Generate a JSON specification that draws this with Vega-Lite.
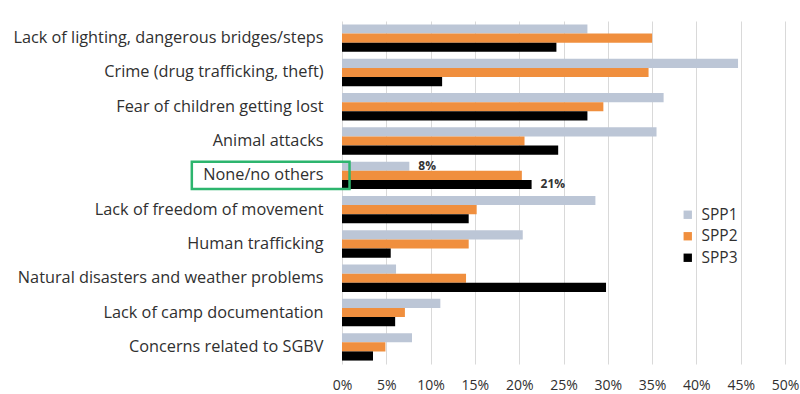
{
  "$schema": "https://vega.github.io/schema/vega-lite/v6.json",
  "width": 443,
  "height": 343,
  "autosize": {"type": "none"},
  "padding": {"left": 342, "top": 21, "right": 15, "bottom": 30},
  "background": "white",
  "config": {
    "font": "Open Sans",
    "view": {"stroke": null},
    "axis": {"labelFont": "Open Sans", "labelColor": "#303030"}
  },
  "data": {
    "values": [
      {"category": "Lack of lighting, dangerous bridges/steps", "series": "SPP1", "value": 0.277, "label": ""},
      {"category": "Lack of lighting, dangerous bridges/steps", "series": "SPP2", "value": 0.350, "label": ""},
      {"category": "Lack of lighting, dangerous bridges/steps", "series": "SPP3", "value": 0.242, "label": ""},
      {"category": "Crime (drug trafficking, theft)", "series": "SPP1", "value": 0.447, "label": ""},
      {"category": "Crime (drug trafficking, theft)", "series": "SPP2", "value": 0.346, "label": ""},
      {"category": "Crime (drug trafficking, theft)", "series": "SPP3", "value": 0.113, "label": ""},
      {"category": "Fear of children getting lost", "series": "SPP1", "value": 0.363, "label": ""},
      {"category": "Fear of children getting lost", "series": "SPP2", "value": 0.295, "label": ""},
      {"category": "Fear of children getting lost", "series": "SPP3", "value": 0.277, "label": ""},
      {"category": "Animal attacks", "series": "SPP1", "value": 0.355, "label": ""},
      {"category": "Animal attacks", "series": "SPP2", "value": 0.206, "label": ""},
      {"category": "Animal attacks", "series": "SPP3", "value": 0.244, "label": ""},
      {"category": "None/no others", "series": "SPP1", "value": 0.076, "label": "8%"},
      {"category": "None/no others", "series": "SPP2", "value": 0.203, "label": ""},
      {"category": "None/no others", "series": "SPP3", "value": 0.214, "label": "21%"},
      {"category": "Lack of freedom of movement", "series": "SPP1", "value": 0.286, "label": ""},
      {"category": "Lack of freedom of movement", "series": "SPP2", "value": 0.152, "label": ""},
      {"category": "Lack of freedom of movement", "series": "SPP3", "value": 0.143, "label": ""},
      {"category": "Human trafficking", "series": "SPP1", "value": 0.204, "label": ""},
      {"category": "Human trafficking", "series": "SPP2", "value": 0.143, "label": ""},
      {"category": "Human trafficking", "series": "SPP3", "value": 0.055, "label": ""},
      {"category": "Natural disasters and weather problems", "series": "SPP1", "value": 0.061, "label": ""},
      {"category": "Natural disasters and weather problems", "series": "SPP2", "value": 0.140, "label": ""},
      {"category": "Natural disasters and weather problems", "series": "SPP3", "value": 0.298, "label": ""},
      {"category": "Lack of camp documentation", "series": "SPP1", "value": 0.111, "label": ""},
      {"category": "Lack of camp documentation", "series": "SPP2", "value": 0.071, "label": ""},
      {"category": "Lack of camp documentation", "series": "SPP3", "value": 0.060, "label": ""},
      {"category": "Concerns related to SGBV", "series": "SPP1", "value": 0.079, "label": ""},
      {"category": "Concerns related to SGBV", "series": "SPP2", "value": 0.049, "label": ""},
      {"category": "Concerns related to SGBV", "series": "SPP3", "value": 0.035, "label": ""}
    ]
  },
  "encoding": {
    "y": {
      "field": "category",
      "type": "nominal",
      "sort": null,
      "scale": {"paddingInner": 0.2, "paddingOuter": 0.1},
      "axis": {
        "title": null,
        "ticks": false,
        "domain": false,
        "labelFontSize": 16.3,
        "labelPadding": 19,
        "labelLimit": 400
      }
    },
    "x": {
      "field": "value",
      "type": "quantitative",
      "scale": {"domain": [0, 0.5]},
      "axis": {
        "title": null,
        "format": ".0%",
        "values": [0, 0.05, 0.1, 0.15, 0.2, 0.25, 0.3, 0.35, 0.4, 0.45, 0.5],
        "ticks": false,
        "domain": false,
        "gridColor": "#d9d9d9",
        "labelFontSize": 14,
        "labelFlush": false,
        "labelOverlap": false,
        "labelPadding": 14
      }
    }
  },
  "layer": [
    {
      "mark": {"type": "bar", "cornerRadius": 0},
      "encoding": {
        "yOffset": {"field": "series", "type": "nominal", "sort": ["SPP1", "SPP2", "SPP3"]},
        "color": {
          "field": "series",
          "type": "nominal",
          "scale": {"domain": ["SPP1", "SPP2", "SPP3"], "range": ["#bcc6d6", "#f08f3e", "#000000"]},
          "legend": {
            "title": null,
            "orient": "none",
            "legendX": 338,
            "legendY": 186,
            "symbolType": "square",
            "symbolSize": 70,
            "symbolStrokeWidth": 0,
            "labelFontSize": 15.5,
            "labelColor": "#303030",
            "labelOffset": 6,
            "rowPadding": 4.5
          }
        }
      }
    },
    {
      "transform": [{"filter": "datum.label != ''"}],
      "mark": {"type": "text", "align": "left", "baseline": "middle", "dx": 9, "fontSize": 12, "fontWeight": "bold", "color": "#333333"},
      "encoding": {
        "yOffset": {"field": "series", "type": "nominal", "sort": ["SPP1", "SPP2", "SPP3"]},
        "text": {"field": "label"}
      }
    },
    {
      "transform": [{"filter": "datum.category == 'None/no others' && datum.series == 'SPP1'"}],
      "mark": {"type": "rect", "fill": null, "stroke": "#2db56e", "strokeWidth": 2.5, "clip": false},
      "encoding": {
        "x": {"datum": -0.1695},
        "x2": {"datum": 0.0085}
      }
    }
  ]
}
